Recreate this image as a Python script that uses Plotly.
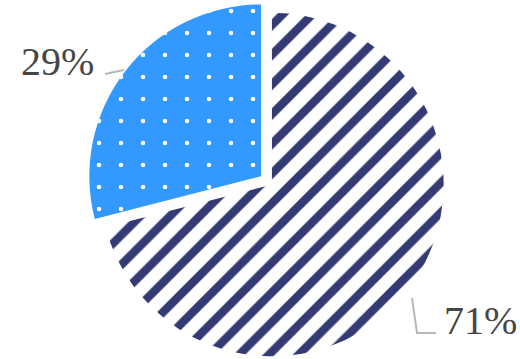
import plotly.graph_objects as go

labels = ["A", "B"]
values = [71, 29]
slice_colors = ["#ffffff", "#3399ff"]
pattern_shapes = ["/", "."]
pattern_fg = ["#343a73", "#ffffff"]
pattern_bg = ["#ffffff", "#3399ff"]

total = sum(values)
pct_text = [f"{round(v * 100 / total)}%" for v in values]

fig = go.Figure(
    go.Pie(
        labels=labels,
        values=values,
        sort=False,
        direction="clockwise",
        rotation=0,
        pull=[0.04, 0.04],
        textinfo="none",
        marker=dict(
            colors=slice_colors,
            line=dict(width=0),
            pattern=dict(
                shape=pattern_shapes,
                fgcolor=pattern_fg,
                bgcolor=pattern_bg,
                size=[21, 22],
                solidity=[0.4, 0.033],
                fillmode="replace",
            ),
        ),
        domain=dict(x=[0.025, 1.0], y=[0.0, 0.995]),
        showlegend=False,
        hoverinfo="skip",
    )
)

label_font = dict(family="Liberation Serif", size=40, color="#464646")
fig.add_annotation(x=0.185, y=0.830, xref="paper", yref="paper", text=pct_text[1],
                   showarrow=False, xanchor="right", yanchor="middle", font=label_font)
fig.add_annotation(x=0.850, y=0.106, xref="paper", yref="paper", text=pct_text[0],
                   showarrow=False, xanchor="left", yanchor="middle", font=label_font)

leader = dict(color="#b8b8b8", width=2)
fig.add_shape(type="path", xref="paper", yref="paper",
              path=f"M {105/520},{1-74/359} L {124/520},{1-70/359}", line=leader)
fig.add_shape(type="path", xref="paper", yref="paper",
              path=f"M {412/520},{1-298/359} L {417/520},{1-333/359} L {436/520},{1-333/359}",
              line=leader)

fig.update_layout(
    width=520,
    height=359,
    margin=dict(l=0, r=0, t=0, b=0),
    paper_bgcolor="white",
    plot_bgcolor="white",
)

fig.write_html(
    "out.html",
    config={"displayModeBar": False},
    post_script="document.body.style.margin='0';document.body.style.overflow='hidden';",
)
